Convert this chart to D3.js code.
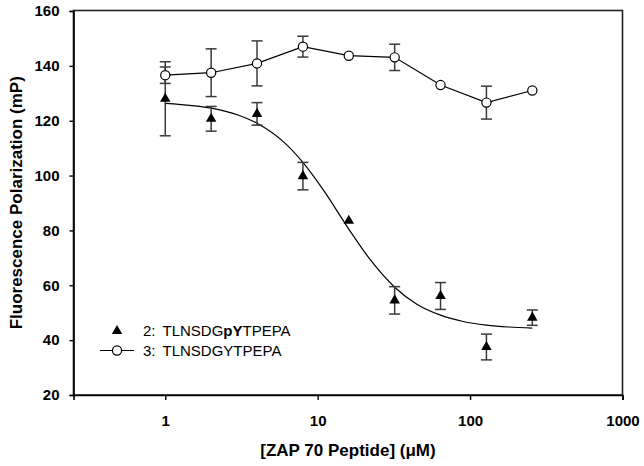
<!DOCTYPE html>
<html>
<head>
<meta charset="utf-8">
<script src="https://cdn.jsdelivr.net/npm/d3@7"></script>
<style>
  html, body { margin: 0; padding: 0; background: #fff; }
  svg { display: block; font-family: "Liberation Sans", Arial, sans-serif; }
</style>
</head>
<body>
<svg id="chart" width="644" height="466"></svg>
<script>
// ---- Data ----
const concentrations = [1, 2, 4, 8, 16, 32, 64, 128, 256];
// Series 2: TLNSDGpYTPEPA (filled triangles)
const pYValues = [128, 120.7, 122.5, 99.8, 83.5, 54.5, 56.1, 37.5, 48.2];
const pYErrors = [13.5, 4.5, 4.1, 5.0, 0, 5.0, 4.9, 4.7, 2.8];
// Series 3: TLNSDGYTPEPA (open circles)
const yValues = [136.6, 137.5, 140.9, 147.0, 143.7, 143.1, 133.0, 126.6, 131.0];
const yErrors = [3.0, 8.7, 8.2, 3.8, 0, 4.8, 0, 6.0, 0];
// Fitted sigmoid curve for series 2
const fitX = [1, 1.5, 2, 3, 4, 6, 8, 11, 16, 22, 32, 45, 64, 90, 128, 180, 256];
const fitY = [126.3, 125.5, 124.6, 122.1, 119.1, 112.2, 104.8, 94.4, 80.5, 69.5, 59.3, 53.0, 49.1, 46.8, 45.5, 44.8, 44.4];
// Axis ticks
const xTicks = [1, 10, 100, 1000];
const yTicks = [20, 40, 60, 80, 100, 120, 140, 160];
const xDomain = [0.25, 1000];
const yDomain = [20, 160];

// ---- Layout ----
const svg = d3.select("#chart");
const pL = 73.5, pR = 622.5, pT = 10.5, pB = 395;
const x = d3.scaleLog().domain(xDomain).range([pL, pR]);
const y = d3.scaleLinear().domain(yDomain).range([pB, 11]);

// frame
svg.append("rect")
  .attr("x", pL).attr("y", pT)
  .attr("width", pR - pL).attr("height", pB - pT)
  .attr("fill", "none").attr("stroke", "#222").attr("stroke-width", 1.6);

// axes
const xAxis = d3.axisBottom(x).tickValues(xTicks).tickFormat(d3.format("d"))
  .tickSizeOuter(0).tickSize(5).tickPadding(15);
const gx = svg.append("g").attr("transform", `translate(0,${pB})`).call(xAxis);
const yAxis = d3.axisLeft(y).tickValues(yTicks).tickSizeOuter(0).tickSize(4).tickPadding(10);
const gy = svg.append("g").attr("transform", `translate(${pL},0)`).call(yAxis);
[gx, gy].forEach(g => {
  g.select(".domain").attr("stroke", "#000").attr("stroke-width", 1.6);
  g.selectAll(".tick line").attr("stroke", "#000").attr("stroke-width", 1.4);
  g.selectAll(".tick text").attr("fill", "#000")
    .style("font-family", "'Liberation Sans', Arial, sans-serif")
    .style("font-size", "15px").style("font-weight", "bold");
});

// axis titles
svg.append("text")
  .attr("x", (pL + pR) / 2).attr("y", 456)
  .attr("text-anchor", "middle")
  .style("font-size", "17px").style("font-weight", "bold")
  .text("[ZAP 70 Peptide] (\u03BCM)");
svg.append("text")
  .attr("transform", `translate(22,${(pT + pB) / 2}) rotate(-90)`)
  .attr("text-anchor", "middle")
  .style("font-size", "17px").style("font-weight", "bold")
  .text("Fluorescence Polarization (mP)");

const errColor = "#3a3a3a";
function errorBars(values, errors) {
  const g = svg.append("g");
  concentrations.forEach((c, i) => {
    const e = errors[i];
    if (!e) return;
    const cx = x(c), y1 = y(values[i] + e), y2 = y(values[i] - e);
    g.append("line").attr("x1", cx).attr("x2", cx).attr("y1", y1).attr("y2", y2)
      .attr("stroke", errColor).attr("stroke-width", 1.5);
    [y1, y2].forEach(yy => g.append("line")
      .attr("x1", cx - 5.5).attr("x2", cx + 5.5).attr("y1", yy).attr("y2", yy)
      .attr("stroke", errColor).attr("stroke-width", 1.5));
  });
}

// fit curve
const fitData = fitX.map((v, i) => [v, fitY[i]]);
svg.append("path")
  .datum(fitData)
  .attr("fill", "none").attr("stroke", "#000").attr("stroke-width", 1.2)
  .attr("d", d3.line().x(d => x(d[0])).y(d => y(d[1])).curve(d3.curveMonotoneX));

// series 3 line
const s3 = concentrations.map((c, i) => [c, yValues[i]]);
svg.append("path")
  .datum(s3)
  .attr("fill", "none").attr("stroke", "#000").attr("stroke-width", 1.2)
  .attr("d", d3.line().x(d => x(d[0])).y(d => y(d[1])));

errorBars(pYValues, pYErrors);
errorBars(yValues, yErrors);

// markers
const tri = d3.symbol().type(d3.symbolTriangle).size(48);
svg.append("g").selectAll("path")
  .data(concentrations.map((c, i) => [c, pYValues[i]]))
  .join("path")
  .attr("transform", d => `translate(${x(d[0])},${y(d[1])})`)
  .attr("d", tri).attr("fill", "#000");

svg.append("g").selectAll("circle")
  .data(s3)
  .join("circle")
  .attr("cx", d => x(d[0])).attr("cy", d => y(d[1]))
  .attr("r", 4.6).attr("fill", "#fff").attr("stroke", "#000").attr("stroke-width", 1.2);

// legend
const lg = svg.append("g").style("font-size", "15px");
lg.append("path").attr("transform", "translate(117,331)").attr("d", tri).attr("fill", "#000");
const t1 = lg.append("text").attr("x", 143).attr("y", 336);
t1.append("tspan").text("2:");
t1.append("tspan").attr("dx", 7).text("TLNSDG");
t1.append("tspan").style("font-weight", "bold").text("pY");
t1.append("tspan").text("TPEPA");
lg.append("line").attr("x1", 100).attr("x2", 134).attr("y1", 350.5).attr("y2", 350.5)
  .attr("stroke", "#000").attr("stroke-width", 1.2);
lg.append("circle").attr("cx", 117).attr("cy", 350.5).attr("r", 4.6)
  .attr("fill", "#fff").attr("stroke", "#000").attr("stroke-width", 1.2);
const t2 = lg.append("text").attr("x", 143).attr("y", 356);
t2.append("tspan").text("3:");
t2.append("tspan").attr("dx", 7).text("TLNSDGYTPEPA");
</script>
</body>
</html>
